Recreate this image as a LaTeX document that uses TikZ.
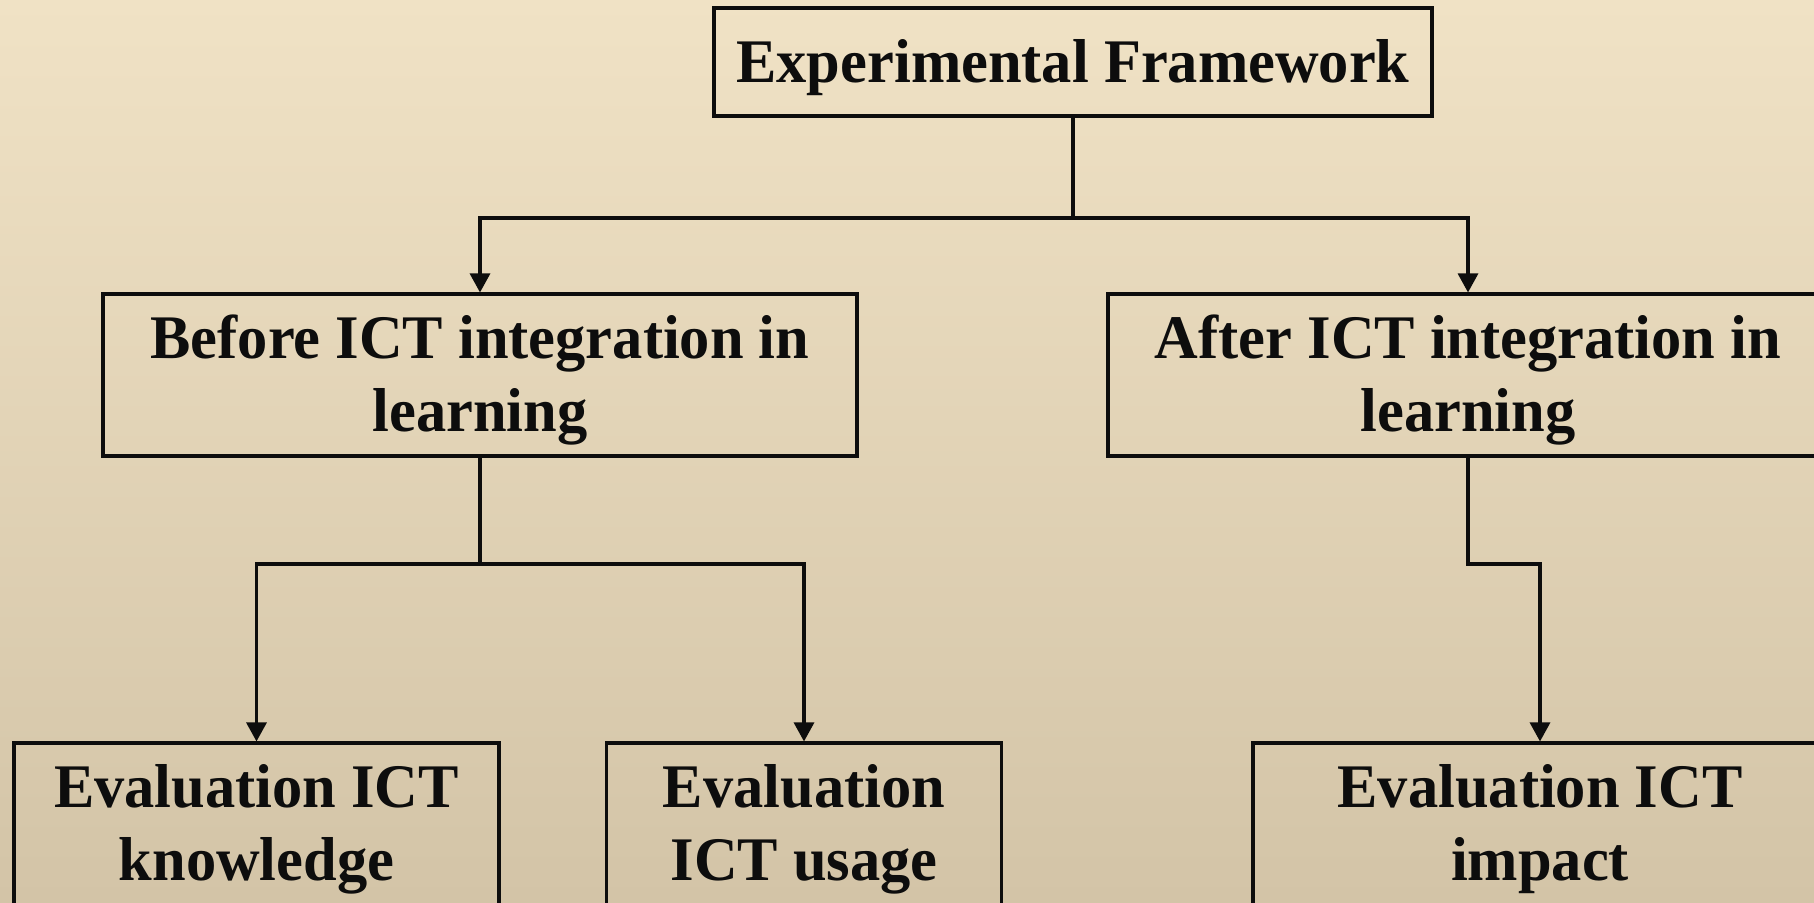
\documentclass[tikz,border=0pt]{standalone}
\usepackage{fontspec}
\setmainfont{Liberation Serif}[FakeStretch=0.975]
\usetikzlibrary{arrows.meta}
\definecolor{bgtop}{RGB}{240,226,197}
\definecolor{bgbot}{RGB}{211,196,167}
\definecolor{ink}{RGB}{13,13,13}
\newcommand\firststrut{\rule{0pt}{27pt}}
\tikzset{
  box/.style={draw=ink, line width=1.55pt, rectangle, inner sep=0pt, align=center,
    text=ink, font=\bfseries\fontsize{31pt}{36.5pt}\selectfont},
  conn/.style={draw=ink, line width=1.55pt},
  arr/.style={conn, -{Triangle[width=10pt,length=9.5pt]}}
}
\begin{document}
\begin{tikzpicture}[x=0.5pt,y=-0.5pt]
\useasboundingbox (0,0) rectangle (1814,902);
\begin{scope}
\clip (0,0) rectangle (1814,902);
\shade[top color=bgtop, bottom color=bgbot] (0,0) rectangle (1814,902);
\node[box, minimum width=359pt, minimum height=54pt] (top) at (1073,62) {\firststrut Experimental Framework};
\node[box, minimum width=377pt, minimum height=81pt] (before) at (480,375) {\firststrut Before ICT integration in\\learning};
\node[box, minimum width=360pt, minimum height=81pt] (after) at (1468,375) {\firststrut After ICT integration in\\learning};
\node[box, minimum width=242.5pt, minimum height=81pt] (ev1) at (256.5,824) {\firststrut Evaluation ICT\\knowledge};
\node[box, minimum width=197.5pt, minimum height=81pt] (ev2) at (804,824) {\firststrut Evaluation\\ICT usage};
\node[box, minimum width=287pt, minimum height=81pt] (ev3) at (1540,824) {\firststrut Evaluation ICT\\impact};
\coordinate (j1) at (1073,218);
\coordinate (j2) at (480,564);
\coordinate (j3) at (1468,564);
\draw[conn] (top.south) -- (j1);
\draw[arr] (j1) -| (before.north);
\draw[arr] (j1) -| (after.north);
\draw[conn] (before.south) -- (j2);
\draw[arr] (j2) -| (ev1.north);
\draw[arr] (j2) -| (ev2.north);
\draw[arr] (after.south) -- (j3) -| (ev3.north);
\end{scope}
\end{tikzpicture}
\end{document}
